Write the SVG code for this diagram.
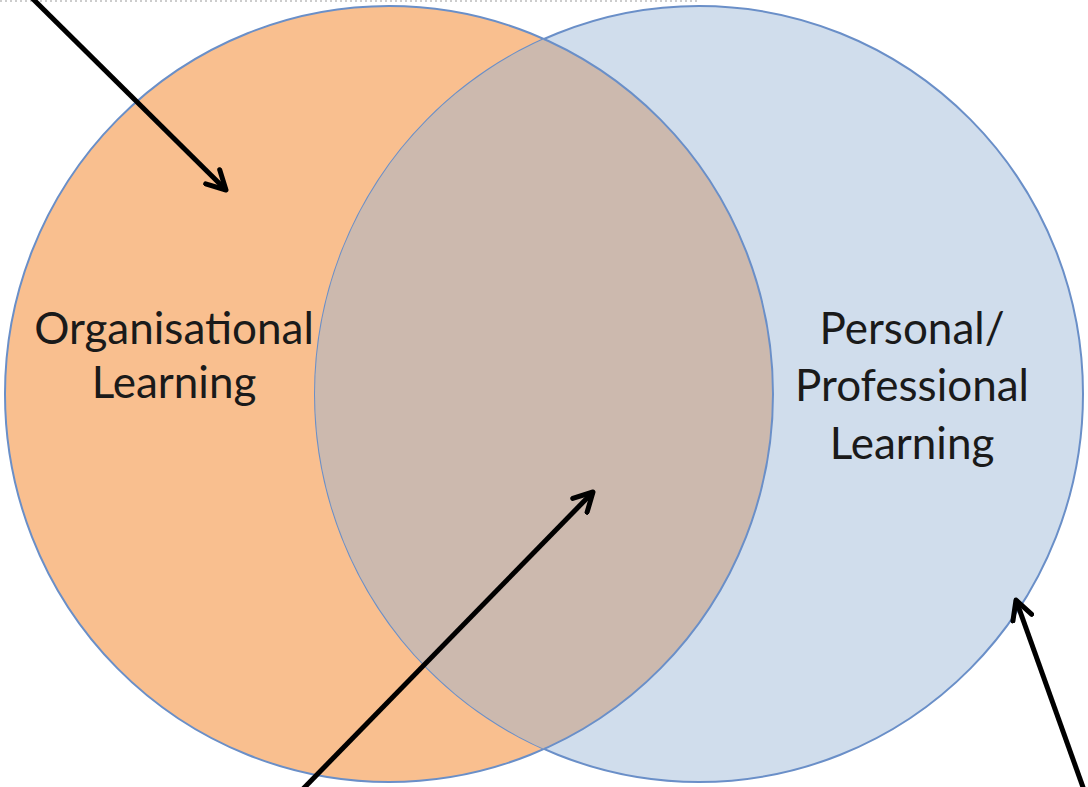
<svg xmlns="http://www.w3.org/2000/svg" width="1088" height="787" viewBox="0 0 1088 787">
<style>
.lbl{font-family:Lato,"Open Sans","Liberation Sans",sans-serif;font-size:44px;fill:#1a1a1a;text-anchor:middle}
.circ{stroke:#6A8FC8;stroke-width:2}
.conn{stroke:#000;stroke-width:5;fill:none;marker-end:url(#arr)}
</style>
<defs>
<marker id="arr" viewBox="0 0 10 10" refX="8.5" refY="5" markerWidth="5" markerHeight="5" orient="auto" markerUnits="strokeWidth">
<path d="M1,1 L8.5,5 L1,9" fill="none" stroke="#000" stroke-width="2" stroke-linecap="round" stroke-linejoin="round"/>
</marker>
<clipPath id="clipL"><ellipse cx="389" cy="394" rx="384" ry="388"/></clipPath>
<clipPath id="clipR"><ellipse cx="699" cy="394" rx="384" ry="388"/></clipPath>
</defs>
<rect width="1088" height="787" fill="#fff"/>
<line x1="0" y1="1" x2="697" y2="1" stroke="#9a9a9a" stroke-width="1" stroke-dasharray="2 3"/>
<g id="organisational">
<ellipse class="circ" cx="389" cy="394" rx="384" ry="388" fill="#F9BF8F"/>
</g>
<g id="personal">
<ellipse class="circ" cx="699" cy="394" rx="384" ry="388" fill="#D0DDEC"/>
</g>
<g id="overlap">
<ellipse cx="699" cy="394" rx="384" ry="388" fill="#CCB9AE" clip-path="url(#clipL)"/>
<ellipse cx="389" cy="394" rx="384" ry="388" fill="none" stroke="#6A8FC8" stroke-width="2" clip-path="url(#clipR)"/>
</g>
<g id="labels">
<text class="lbl" x="174" y="344">Organisational</text>
<text class="lbl" x="174" y="398">Learning</text>
<text class="lbl" x="912" y="344">Personal/</text>
<text class="lbl" x="912" y="401">Professional</text>
<text class="lbl" x="912" y="459">Learning</text>
</g>
<g id="connectors">
<line class="conn" x1="32" y1="-2" x2="226" y2="190"/>
<line class="conn" x1="302" y1="790" x2="593" y2="492"/>
<line class="conn" x1="1084" y1="790" x2="1016" y2="600"/>
</g>
</svg>
